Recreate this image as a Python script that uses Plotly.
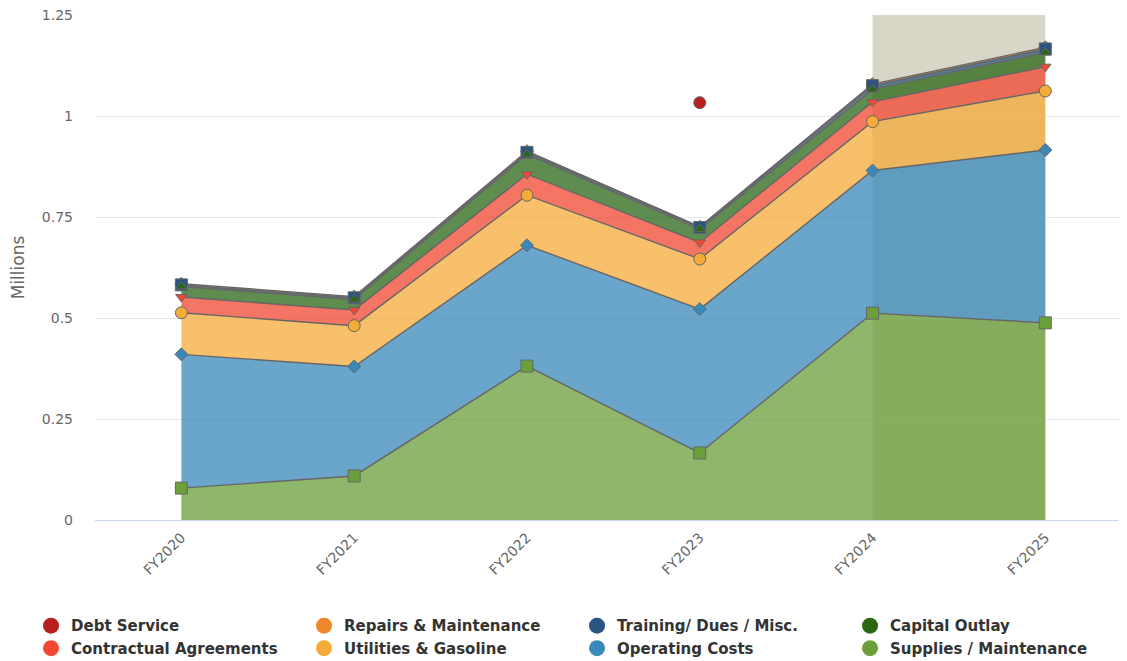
import numpy as np
import plotly.graph_objects as go

years = ["FY2020", "FY2021", "FY2022", "FY2023", "FY2024", "FY2025"]

# values in millions, bottom of stack first
supplies = [0.079, 0.109, 0.381, 0.166, 0.512, 0.488]
operating = [0.331, 0.271, 0.299, 0.356, 0.353, 0.428]
utilities = [0.103, 0.101, 0.124, 0.124, 0.121, 0.146]
contractual = [0.039, 0.039, 0.052, 0.041, 0.049, 0.060]
capital = [0.026, 0.026, 0.049, 0.033, 0.031, 0.035]
training = [0.004, 0.004, 0.005, 0.004, 0.009, 0.009]
repairs = [0.003, 0.003, 0.003, 0.002, 0.004, 0.004]
debt = [None, None, None, 0.307, None, None]

highlight = ["FY2024", "FY2025"]

# name, values, colour, rgb for the fill, marker symbol, marker size
stack = [
    ("Supplies / Maintenance", supplies, "#6a9f3a", "106,159,58", "square", 12),
    ("Operating Costs", operating, "#3888b9", "56,136,185", "diamond", 10),
    ("Utilities & Gasoline", utilities, "#f5ab38", "245,171,56", "circle", 12),
    ("Contractual Agreements", contractual, "#f24732", "242,71,50", "triangle-down", 10),
    ("Capital Outlay", capital, "#2a6614", "42,102,20", "triangle-up", 10),
    ("Training/ Dues / Misc.", training, "#2b5580", "43,85,128", "square", 12),
    ("Repairs & Maintenance", repairs, "#f0862a", "240,134,42", "diamond", 10),
]
debt_color = "#b81f1f"

legend_order = ["Debt Service", "Repairs & Maintenance", "Training/ Dues / Misc.", "Capital Outlay",
                "Contractual Agreements", "Utilities & Gasoline", "Operating Costs", "Supplies / Maintenance"]

fig = go.Figure()

# stacked areas
for name, vals, col, rgb, sym, sz in stack:
    fig.add_trace(go.Scatter(x=years, y=vals, name=name, mode="lines", stackgroup="one",
                             line=dict(color="#666666", width=1.4),
                             fillcolor="rgba(%s,0.75)" % rgb, showlegend=False))

# markers on top of the areas (top series drawn first)
cum = np.cumsum(np.array([s[1] for s in stack]), axis=0)
for i in reversed(range(len(stack))):
    name, vals, col, rgb, sym, sz = stack[i]
    fig.add_trace(go.Scatter(x=years, y=cum[i], mode="markers", showlegend=False,
                             marker=dict(symbol=sym, size=sz, color=col,
                                         line=dict(color="#666666", width=1))))

# debt service sits on top of the stack
debt_y = [None if d is None else cum[-1][j] + d for j, d in enumerate(debt)]
fig.add_trace(go.Scatter(x=years, y=debt_y, mode="markers", showlegend=False,
                         marker=dict(symbol="circle", size=12, color=debt_color,
                                     line=dict(color="#666666", width=1))))

# legend entries as plain circles
colors = {s[0]: s[2] for s in stack}
colors["Debt Service"] = debt_color
for name in legend_order:
    fig.add_trace(go.Scatter(x=[None], y=[None], mode="markers", name=name,
                             marker=dict(symbol="circle", size=16, color=colors[name])))

fig.add_shape(type="rect", xref="x", yref="paper",
              x0=years.index(highlight[0]), x1=years.index(highlight[1]), y0=0, y1=1,
              fillcolor="#d8d6c7", line_width=0, layer="below")

# page body adds 8px, so margins are shifted; plot runs off the right edge a little
fig.update_layout(
    width=1127, height=653,
    margin=dict(l=87, r=0, t=7, b=141, autoexpand=False),
    plot_bgcolor="white", paper_bgcolor="white",
    font=dict(family="DejaVu Sans", size=14, color="#666666"),
    xaxis=dict(type="category", range=[-0.5, 5.519], showgrid=False, automargin=False,
               showline=True, linecolor="#ccd6eb", linewidth=1,
               tickangle=-45, ticklabelstandoff=3),
    yaxis=dict(range=[0, 1.25], dtick=0.25, gridcolor="#e6e6e6", zeroline=False,
               automargin=False, ticklabeloverflow="allow",
               title=dict(text="Millions", standoff=18), ticklabelstandoff=21),
    legend=dict(orientation="h", traceorder="normal", x=-0.0615, xanchor="left", y=-0.177,
                yanchor="top", entrywidth=228, itemwidth=30,
                font=dict(family="DejaVu Sans", size=15, color="#333333", weight="bold")),
    showlegend=True,
)

fig.write_html("out.html")
